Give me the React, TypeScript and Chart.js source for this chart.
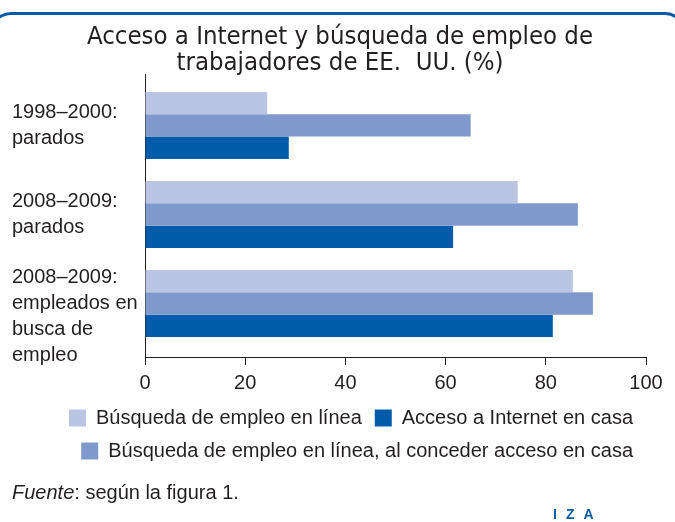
import React, { useEffect, useRef } from "react";
import { Chart, registerables } from "chart.js";

Chart.register(...registerables);

// ---- data ----
const TITLE_LINES = ["Acceso a Internet y búsqueda de empleo de", "trabajadores de EE.  UU. (%)"];
const CATEGORIES: string[][] = [
  ["1998–2000:", "parados"],
  ["2008–2009:", "parados"],
  ["2008–2009:", "empleados en", "busca de", "empleo"],
];
const SERIES_NAMES = [
  "Búsqueda de empleo en línea",
  "Búsqueda de empleo en línea, al conceder acceso en casa",
  "Acceso a Internet en casa",
];
const ONLINE_SEARCH = [24.4, 74.4, 85.4];
const SEARCH_WITH_ACCESS = [65.0, 86.4, 89.4];
const HOME_ACCESS = [28.7, 61.5, 81.4];
const X_TICKS = [0, 20, 40, 60, 80, 100];
const LEGEND_ORDER = [0, 2, 1];
const SOURCE_LABEL = "Fuente";
const SOURCE_TEXT = ": según la figura 1.";
const LOGO = "IZA";

// ---- styles ----
const COLORS = ["#b9c5e3", "#7f99cc", "#005baa"];
const TEXT = "#231f20";
const FRAME = "#0a5aa8";
const SANS = '"Liberation Sans", Arial, sans-serif';
const NARROW = '"DejaVu Sans Condensed", "Liberation Sans", sans-serif';

const decorPlugin = {
  id: "decor",
  afterLayout(chart: any) {
    const t = chart.titleBlock;
    if (t) {
      t.left += 11;
      t.right += 11;
    }
  },
  afterDraw(chart: any) {
    const ctx: CanvasRenderingContext2D = chart.ctx;
    ctx.save();
    // frame top border
    ctx.strokeStyle = FRAME;
    ctx.lineWidth = 3;
    ctx.beginPath();
    ctx.moveTo(-9, 60);
    ctx.arcTo(-9, 13.5, 20, 13.5, 20);
    ctx.lineTo(660, 13.5);
    ctx.arcTo(685, 13.5, 685, 60, 20);
    ctx.lineTo(685, 60);
    ctx.stroke();

    // source
    ctx.fillStyle = TEXT;
    ctx.textAlign = "left";
    ctx.textBaseline = "alphabetic";
    ctx.font = "italic 20px " + SANS;
    ctx.fillText(SOURCE_LABEL, 12, 499);
    const w = ctx.measureText(SOURCE_LABEL).width;
    ctx.font = "20px " + SANS;
    ctx.fillText(SOURCE_TEXT, 12 + w, 499);

    // logo
    ctx.fillStyle = FRAME;
    ctx.font = "bold 14px " + SANS;
    let x = 553;
    for (const ch of LOGO.split("")) {
      ctx.fillText(ch, x, 519);
      x += ctx.measureText(ch).width + 9;
    }
    ctx.restore();
  },
};

export default function App() {
  const ref = useRef<HTMLCanvasElement>(null);
  useEffect(() => {
    document.body.style.margin = "0";
    const seriesValues = [ONLINE_SEARCH, SEARCH_WITH_ACCESS, HOME_ACCESS];
    const chart = new Chart(ref.current!, {
      type: "bar",
      data: {
        datasets: seriesValues.map((vals, si) => ({
          label: SERIES_NAMES[si],
          data: vals.map((v, i) => ({ x: v, y: i })),
          backgroundColor: COLORS[si],
          borderWidth: 0,
          categoryPercentage: 0.753,
          barPercentage: 1,
        })),
      },
      options: {
        indexAxis: "y",
        animation: false,
        responsive: true,
        maintainAspectRatio: false,
        events: [],
        layout: { padding: { left: 12, right: 29, top: 0, bottom: 51 } },
        scales: {
          y: {
            type: "linear",
            reverse: true,
            offset: false,
            min: -0.567,
            max: 2.601,
            afterBuildTicks: (s: any) => {
              s.ticks = CATEGORIES.map((_, i) => ({ value: i }));
            },
            afterFit: (s: any) => {
              s.width = 133;
            },
            grid: { display: false },
            border: { display: true, color: TEXT, width: 1 },
            ticks: {
              crossAlign: "far",
              color: TEXT,
              font: { family: SANS, size: 20, lineHeight: 1.3 },
              callback: (v: any) => {
                const lines = CATEGORIES[Math.round(Number(v))] || [];
                return lines.length > 2 ? ["", ...lines] : lines;
              },
            },
          },
          x: {
            type: "linear",
            min: 0,
            max: 100,
            afterBuildTicks: (s: any) => {
              s.ticks = X_TICKS.map((v) => ({ value: v }));
            },
            afterFit: (s: any) => {
              s.height = 38;
            },
            grid: {
              display: true,
              drawOnChartArea: false,
              drawTicks: true,
              tickLength: 8,
              color: TEXT,
              lineWidth: 1,
            },
            border: { display: true, color: TEXT, width: 1 },
            ticks: {
              padding: 6,
              color: TEXT,
              font: { family: SANS, size: 20, lineHeight: 1.2 },
            },
          },
        },
        plugins: {
          tooltip: { enabled: false },
          title: {
            display: true,
            text: TITLE_LINES,
            color: TEXT,
            font: { family: NARROW, size: 25.5, weight: "normal", lineHeight: 1.03 },
            padding: { top: 24.3, bottom: -1.9 },
          },
          legend: {
            display: true,
            position: "bottom",
            align: "end",
            labels: {
              color: TEXT,
              font: { family: SANS, size: 20 },
              boxWidth: 17,
              boxHeight: 17,
              padding: 13,
              sort: (a: any, b: any) =>
                LEGEND_ORDER.indexOf(a.datasetIndex) - LEGEND_ORDER.indexOf(b.datasetIndex),
            },
          },
        },
      },
      plugins: [decorPlugin],
    } as any);
    return () => chart.destroy();
  }, []);
  return (
    <div style={{ position: "relative", width: 675, height: 522 }}>
      <canvas ref={ref} />
    </div>
  );
}
